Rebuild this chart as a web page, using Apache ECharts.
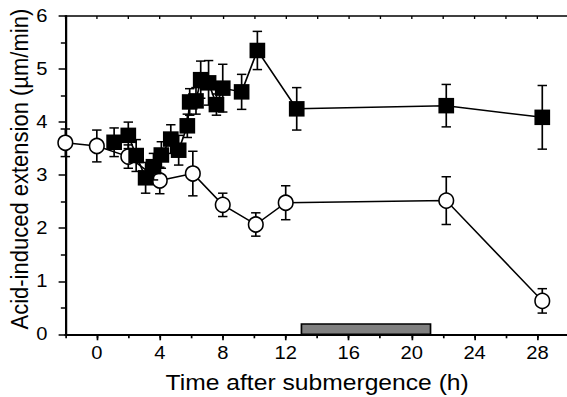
<!DOCTYPE html>
<html>
<head>
<meta charset="utf-8">
<script src="https://cdn.jsdelivr.net/npm/echarts@6/dist/echarts.min.js"></script>
<style>
html,body{margin:0;padding:0;background:#fff;overflow:hidden}
#wrap{width:567px;height:397px;overflow:hidden;position:relative}
#c{width:506px;height:397px;transform:scaleX(1.1206);transform-origin:0 0}
</style>
</head>
<body>
<div id="wrap"><div id="c"></div></div>
<script>
// ---- data ----
const openTime = [-2.0, 0.0, 2.0, 4.0, 6.1, 8.0, 10.1, 12.0, 22.2, 28.3];
const openMean = [3.61, 3.55, 3.35, 2.90, 3.03, 2.44, 2.07, 2.48, 2.52, 0.63];
const openErr  = [0.26, 0.30, 0.22, 0.25, 0.42, 0.22, 0.22, 0.32, 0.45, 0.23];

const filledTime = [1.1, 2.0, 2.5, 3.1, 3.6, 4.1, 4.7, 5.2, 5.75, 5.9, 6.3, 6.6, 7.1, 7.6, 8.0, 9.2, 10.2, 12.7, 22.2, 28.3];
const filledMean = [3.62, 3.75, 3.37, 2.95, 3.16, 3.38, 3.68, 3.47, 3.93, 4.38, 4.40, 4.80, 4.74, 4.33, 4.64, 4.57, 5.35, 4.25, 4.31, 4.09];
const filledErr  = [0.27, 0.25, 0.30, 0.29, 0.25, 0.25, 0.27, 0.28, 0.22, 0.25, 0.25, 0.35, 0.42, 0.20, 0.45, 0.33, 0.36, 0.40, 0.40, 0.60];

const darkStart = [13.0];
const darkEnd = [21.2];
const darkLevel = [0.195];

const xTickLabels = [0, 4, 8, 12, 16, 20, 24, 28];
const yTickLabels = [0, 1, 2, 3, 4, 5, 6];

const xTitle = 'Time after submergence (h)';
const yTitle = 'Acid-induced extension (\u00b5m/min)';

// ---- chart ----
const FONT = "'Liberation Sans', Arial, Helvetica, sans-serif";
const chart = echarts.init(document.getElementById('c'), null, {renderer: 'svg'});

function errorBars(times, means, errs) {
  return {
    type: 'custom',
    data: times.map((t, i) => [t, means[i], errs[i]]),
    clip: false,
    renderItem: function (params, api) {
      const x = api.value(0), y = api.value(1), e = api.value(2);
      const top = api.coord([x, y + e]);
      const bot = api.coord([x, y - e]);
      const h = 4.2;
      const st = {stroke: '#000', lineWidth: 1.5};
      return {
        type: 'group',
        children: [
          {type: 'line', shape: {x1: top[0], y1: top[1], x2: bot[0], y2: bot[1]}, style: st},
          {type: 'line', shape: {x1: top[0] - h, y1: top[1], x2: top[0] + h, y2: top[1]}, style: st},
          {type: 'line', shape: {x1: bot[0] - h, y1: bot[1], x2: bot[0] + h, y2: bot[1]}, style: st}
        ]
      };
    }
  };
}

const option = {
  animation: false,
  backgroundColor: '#fff',
  textStyle: {fontFamily: FONT},
  grid: {left: 58.3, right: -1.8, top: 16, bottom: 62.7, containLabel: false, outerBoundsMode: 'none'},
  xAxis: [
    {
      type: 'value', min: -2, max: 30, position: 'bottom',
      axisLine: {show: true, onZero: false, lineStyle: {color: '#000', width: 2}},
      axisTick: {show: true, customValues: xTickLabels, length: 6, lineStyle: {color: '#000', width: 1.5}},
      axisLabel: {show: true, customValues: xTickLabels, margin: 10, color: '#000', fontSize: 18, fontFamily: FONT},
      splitLine: {show: false},
      name: xTitle, nameLocation: 'middle', nameGap: 37, nameMoveOverlap: false,
      nameTextStyle: {color: '#000', fontSize: 22, fontFamily: FONT}
    },
    {
      type: 'value', min: -2, max: 30, interval: 2, position: 'bottom',
      axisLine: {show: false, onZero: false},
      axisTick: {show: true, length: 4, lineStyle: {color: '#000', width: 1.5}},
      axisLabel: {show: false},
      splitLine: {show: false}
    },
    {
      type: 'value', min: -2, max: 30, interval: 2, position: 'top',
      axisLine: {show: true, onZero: false, lineStyle: {color: '#000', width: 1.5}},
      axisTick: {show: true, inside: true, length: 3, lineStyle: {color: '#000', width: 1.2}},
      axisLabel: {show: false},
      splitLine: {show: false}
    }
  ],
  yAxis: [
    {
      type: 'value', min: 0, max: 6, interval: 1, position: 'left',
      axisLine: {show: true, onZero: false, lineStyle: {color: '#000', width: 2}},
      axisTick: {show: true, length: 6, lineStyle: {color: '#000', width: 1.5}},
      minorTick: {show: true, splitNumber: 2, length: 4, lineStyle: {color: '#000', width: 1.5}},
      axisLabel: {show: true, margin: 16, color: '#000', fontSize: 18, fontFamily: FONT,
        formatter: function (v) { return yTickLabels.indexOf(v) >= 0 ? String(v) : ''; }},
      splitLine: {show: false},
      minorSplitLine: {show: false},
      name: yTitle, nameLocation: 'middle', nameGap: 30, nameRotate: 90, nameMoveOverlap: false,
      nameTextStyle: {color: '#000', fontSize: 22, fontFamily: FONT, padding: [0, 0, 0, 12]}
    }
  ],
  series: [
    {
      type: 'custom',
      data: darkStart.map((s, i) => [s, darkEnd[i], darkLevel[i]]),
      z: 1,
      renderItem: function (params, api) {
        const p0 = api.coord([api.value(0), api.value(2)]);
        const p1 = api.coord([api.value(1), 0]);
        return {
          type: 'rect',
          shape: {x: p0[0], y: p0[1], width: p1[0] - p0[0], height: p1[1] - p0[1]},
          style: {fill: '#808080', stroke: '#000', lineWidth: 1.5}
        };
      }
    },
    Object.assign(errorBars(openTime, openMean, openErr), {z: 2}),
    {
      type: 'line', z: 3, clip: false,
      data: openTime.map((t, i) => [t, openMean[i]]),
      symbol: 'circle', symbolSize: [13, 15], showAllSymbol: true,
      lineStyle: {color: '#000', width: 1.5},
      itemStyle: {color: '#fff', borderColor: '#000', borderWidth: 1.5}
    },
    Object.assign(errorBars(filledTime, filledMean, filledErr), {z: 4}),
    {
      type: 'line', z: 5, clip: false,
      data: filledTime.map((t, i) => [t, filledMean[i]]),
      symbol: 'rect', symbolSize: [14, 15.5], showAllSymbol: true,
      lineStyle: {color: '#000', width: 1.5},
      itemStyle: {color: '#000', borderColor: '#000', borderWidth: 0}
    }
  ]
};
chart.setOption(option);
</script>
</body>
</html>
